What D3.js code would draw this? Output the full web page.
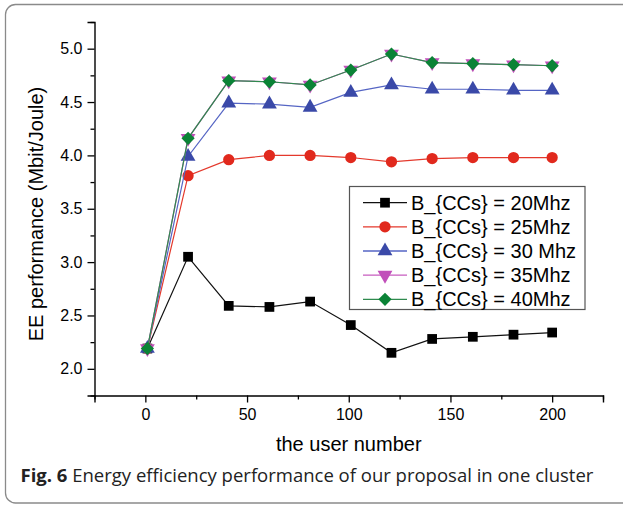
<!DOCTYPE html>
<html><head><meta charset="utf-8">
<script src="https://cdn.jsdelivr.net/npm/d3@7"></script>
<style>body{margin:0;background:#fff}svg{display:block}</style>
</head><body>
<svg id="c" width="623" height="505"></svg>
<script>
const userNumbers = [1, 21, 41, 61, 81, 101, 121, 141, 161, 181, 200];
const ee20 = [2.19, 3.05, 2.59, 2.58, 2.63, 2.41, 2.15, 2.28, 2.30, 2.32, 2.34];
const ee25 = [2.19, 3.81, 3.96, 4.00, 4.00, 3.98, 3.94, 3.97, 3.98, 3.98, 3.98];
const ee30 = [2.19, 3.99, 4.49, 4.48, 4.45, 4.59, 4.66, 4.62, 4.62, 4.61, 4.61];
const ee35 = [2.19, 4.16, 4.70, 4.69, 4.66, 4.80, 4.95, 4.87, 4.86, 4.85, 4.84];
const ee40 = [2.19, 4.16, 4.70, 4.69, 4.66, 4.80, 4.95, 4.87, 4.86, 4.85, 4.84];
const seriesNames = ["B_{CCs} = 20Mhz", "B_{CCs} = 25Mhz", "B_{CCs} = 30 Mhz", "B_{CCs} = 35Mhz", "B_{CCs} = 40Mhz"];
const xTicks = [0, 50, 100, 150, 200];
const xMinorTicks = [-25, 25, 75, 125, 175, 225];
const yTicks = [2.0, 2.5, 3.0, 3.5, 4.0, 4.5, 5.0];
const yMinorTicks = [1.75, 2.25, 2.75, 3.25, 3.75, 4.25, 4.75, 5.25];
const xTitle = "the user number";
const yTitle = "EE performance (Mbit/Joule)";
const captionBold = "Fig. 6";
const captionText = " Energy efficiency performance of our proposal in one cluster";

const styles = [
  {line: "#111", fill: "#000", sym: d3.symbolSquare, size: 95},
  {line: "#e4392c", fill: "#e1291d", sym: d3.symbolCircle, size: 100},
  {line: "#5565c4", fill: "#3a49a8", sym: d3.symbolTriangle, size: 95},
  {line: "#c75cbf", fill: "#c14fba", sym: d3.symbolTriangle, size: 95, rot: 180},
  {line: "#2f8a4e", fill: "#0b8336", sym: d3.symbolSquare, size: 88, rot: 45}
];
const allSeries = [ee20, ee25, ee30, ee35, ee40];

const svg = d3.select("#c");
const font = "'Liberation Sans', Arial, Helvetica, sans-serif";

// Frame
svg.append("rect").attr("x", 5.5).attr("y", 4.5).attr("width", 640).attr("height", 498.5)
  .attr("rx", 10).attr("fill", "none").attr("stroke", "#8a8a8a").attr("stroke-width", 1.3);

const x = d3.scaleLinear().domain([-25, 225]).range([94.5, 603]);
const y = d3.scaleLinear().domain([1.75, 5.25]).range([395.5, 22]);

// Axes
const gx = svg.append("g").attr("transform", `translate(0,${y(1.75)})`);
gx.call(d3.axisBottom(x).tickValues(xTicks).tickSize(7).tickPadding(6).tickFormat(d3.format("d")));
const gxm = svg.append("g").attr("transform", `translate(0,${y(1.75)})`);
gxm.call(d3.axisBottom(x).tickValues(xMinorTicks).tickSize(4).tickFormat(""));
const gy = svg.append("g").attr("transform", `translate(${x(-25)},0)`);
gy.call(d3.axisLeft(y).tickValues(yTicks).tickSize(7).tickPadding(5).tickFormat(d3.format(".1f")));
const gym = svg.append("g").attr("transform", `translate(${x(-25)},0)`);
gym.call(d3.axisLeft(y).tickValues(yMinorTicks).tickSize(4).tickFormat(""));
[gx, gxm, gy, gym].forEach(g => {
  g.attr("font-family", font).attr("font-size", 16);
  g.selectAll(".domain").attr("stroke", "#000").attr("stroke-width", 1.4);
  g.selectAll(".tick line").attr("stroke", "#000").attr("stroke-width", 1.3);
  g.selectAll("text").attr("font-family", font).attr("font-size", 16).attr("fill", "#000");
});
gxm.select(".domain").remove(); gym.select(".domain").remove();

// Titles
svg.append("text").attr("x", (x(-25) + x(225)) / 2).attr("y", 451).attr("text-anchor", "middle")
  .attr("font-family", font).attr("font-size", 20).text(xTitle);
svg.append("text").attr("transform", `translate(42.5,214) rotate(-90)`)
  .attr("text-anchor", "middle").attr("font-family", font).attr("font-size", 20).text(yTitle);

// Series
const line = d3.line().x((d, i) => x(userNumbers[i])).y(d => y(d));
allSeries.forEach((vals, k) => {
  const st = styles[k];
  const g = svg.append("g");
  g.append("path").attr("d", line(vals)).attr("fill", "none").attr("stroke", st.line).attr("stroke-width", 1.2);
  g.selectAll("path.m").data(vals).join("path").attr("class", "m")
    .attr("transform", (d, i) => `translate(${x(userNumbers[i])},${y(d)})` + (st.rot ? ` rotate(${st.rot})` : ""))
    .attr("d", d3.symbol().type(st.sym).size(st.size)).attr("fill", st.fill);
});

// Legend
const lg = svg.append("g");
lg.append("rect").attr("x", 349.5).attr("y", 186.5).attr("width", 235.5).attr("height", 123)
  .attr("fill", "#fff").attr("stroke", "#555").attr("stroke-width", 1.2);
seriesNames.forEach((name, k) => {
  const st = styles[k];
  const cy = 202.7 + k * 24.15;
  lg.append("line").attr("x1", 363).attr("x2", 407).attr("y1", cy).attr("y2", cy)
    .attr("stroke", st.line).attr("stroke-width", 1.3);
  lg.append("path").attr("transform", `translate(385,${cy})` + (st.rot ? ` rotate(${st.rot})` : ""))
    .attr("d", d3.symbol().type(st.sym).size(st.size)).attr("fill", st.fill);
  lg.append("text").attr("x", 411).attr("y", cy + 7).attr("font-family", font).attr("font-size", 20)
    .attr("fill", "#000").text(name);
});

// Caption
const cap = svg.append("text").attr("x", 20.5).attr("y", 482)
  .attr("font-family", "'Open Sans', 'Noto Sans', sans-serif").attr("font-size", 18.5).attr("fill", "#222");
cap.append("tspan").attr("font-weight", "bold").text(captionBold);
cap.append("tspan").text(captionText);
</script>
</body></html>
